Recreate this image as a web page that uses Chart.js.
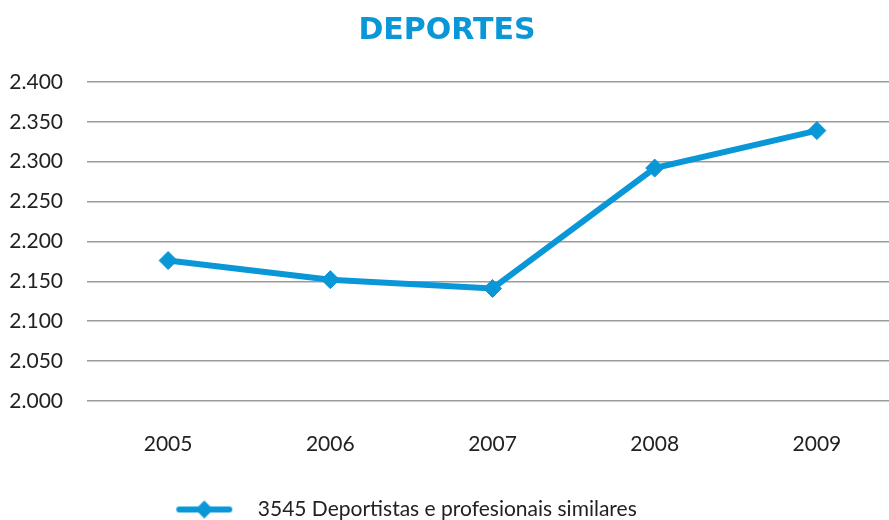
<!DOCTYPE html>
<html>
<head>
<meta charset="utf-8">
<script src="https://cdn.jsdelivr.net/npm/chart.js@4/dist/chart.umd.min.js"></script>
<style>
  html, body { margin: 0; padding: 0; background: #fff; overflow: hidden; }
  #wrap { width: 908px; height: 520px; }
</style>
</head>
<body>
<div id="wrap"><canvas id="chart"></canvas></div>
<script>
// Data
const years = ["2005", "2006", "2007", "2008", "2009"];
const values = [2176, 2152, 2141, 2292, 2339];
const yMin = 2000;
const yMax = 2400;
const yStep = 50;
const seriesLabel = "3545 Deportistas e profesionais similares";

const blue = "#0a97d8";

// Legend symbol: short line with a diamond in the middle
function legendSymbol() {
    const c = document.createElement("canvas");
    c.width = 72;
    c.height = 22;
    const ctx = c.getContext("2d");
    ctx.strokeStyle = blue;
    ctx.lineWidth = 6;
    ctx.lineCap = "round";
    ctx.beginPath();
    ctx.moveTo(4, 11);
    ctx.lineTo(54, 11);
    ctx.stroke();
    ctx.fillStyle = blue;
    ctx.beginPath();
    ctx.moveTo(29, 2);
    ctx.lineTo(38, 11);
    ctx.lineTo(29, 20);
    ctx.lineTo(20, 11);
    ctx.closePath();
    ctx.fill();
    return c;
}

// Format thousands with a dot, as in the original
function fmt(v) {
    const s = String(v);
    return s.length > 3 ? s.slice(0, -3) + "." + s.slice(-3) : s;
}

// Move legend and title to where the original has them
const boxShift = {
    id: "boxShift",
    afterLayout(chart) {
        const lg = chart.legend;
        lg.left -= 48;
        lg.right -= 48;
        lg.top += 10;
        lg.bottom += 10;
        const tb = chart.titleBlock;
        tb.left -= 7;
        tb.right -= 7;
    }
};

new Chart(document.getElementById("chart"), {
    type: "line",
    data: {
        labels: years,
        datasets: [{
            label: seriesLabel,
            data: values,
            borderColor: blue,
            backgroundColor: blue,
            borderWidth: 6,
            pointStyle: "rectRot",
            pointRadius: 9,
            pointBorderWidth: 1,
            pointBackgroundColor: blue,
            pointBorderColor: blue,
            tension: 0
        }]
    },
    options: {
        responsive: true,
        maintainAspectRatio: false,
        animation: false,
        layout: { padding: { left: 0, right: 0, top: 0, bottom: 0 } },
        plugins: {
            title: {
                display: true,
                text: "DEPORTES",
                color: blue,
                font: { family: "'DejaVu Sans'", size: 30, weight: "bold" },
                padding: { top: 13, bottom: 33 }
            },
            legend: {
                position: "bottom",
                labels: {
                    usePointStyle: true,
                    pointStyle: legendSymbol(),
                    pointStyleWidth: 72,
                    color: "#222",
                    font: { family: "Lato", size: 21 },
                    padding: 1
                }
            },
            tooltip: { enabled: false }
        },
        scales: {
            x: {
                offset: true,
                grid: { display: false, drawTicks: false },
                border: { display: false },
                ticks: {
                    color: "#222",
                    font: { family: "Lato", size: 21 },
                    padding: 31
                }
            },
            y: {
                min: yMin,
                max: yMax,
                afterFit(scale) { scale.width = 87; },
                grid: { color: "#9c9c9c", lineWidth: 1.5, drawTicks: false },
                border: { display: false },
                ticks: {
                    stepSize: yStep,
                    color: "#222",
                    font: { family: "Lato", size: 21 },
                    padding: 24,
                    callback: v => fmt(v)
                }
            }
        }
    },
    plugins: [boxShift]
});
</script>
</body>
</html>
